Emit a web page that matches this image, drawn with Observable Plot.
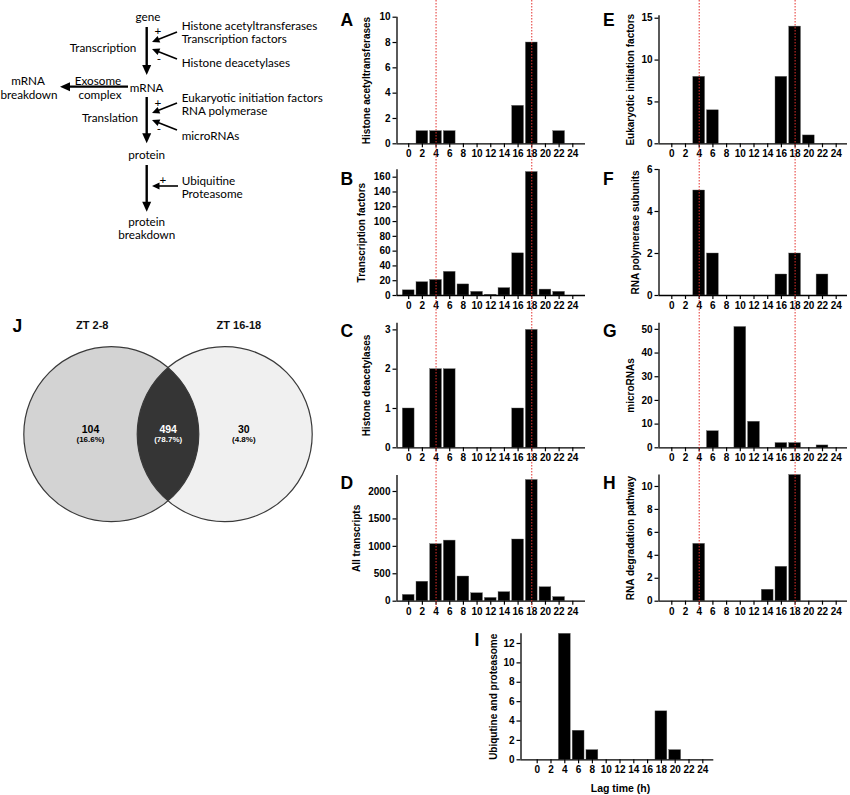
<!DOCTYPE html>
<html><head><meta charset="utf-8">
<script src="https://cdn.jsdelivr.net/npm/d3@7"></script>
<script src="https://cdn.jsdelivr.net/npm/@observablehq/plot@0.6"></script>
<style>
body{margin:0;background:#fff;}
#fig{position:relative;width:850px;height:795px;overflow:hidden;background:#fff;font-family:"Liberation Sans",Arial,sans-serif;}
#fig > *{position:absolute;}
</style></head><body><div id="fig"></div>
<script>
// ---------------- data ----------------
const lag = [0, 2, 4, 6, 8, 10, 12, 14, 16, 18, 20, 22, 24];
const histoneAcetyltransferases = [0, 1, 1, 1, 0, 0, 0, 0, 3, 8, 0, 1, 0];
const transcriptionFactors = [7, 18, 21, 32, 15, 5, 1, 10, 57, 167, 8, 5, 0];
const histoneDeacetylases = [1, 0, 2, 2, 0, 0, 0, 0, 1, 3, 0, 0, 0];
const allTranscripts = [115, 355, 1040, 1105, 450, 145, 60, 165, 1125, 2210, 255, 75, 0];
const eukaryoticInitiationFactors = [0, 0, 8, 4, 0, 0, 0, 0, 8, 14, 1, 0, 0];
const rnaPolymeraseSubunits = [0, 0, 5, 2, 0, 0, 0, 0, 1, 2, 0, 1, 0];
const microRNAs = [0, 0, 0, 7, 0, 51, 11, 0, 2, 2, 0, 1, 0];
const rnaDegradationPathway = [0, 0, 5, 0, 0, 0, 0, 1, 3, 11, 0, 0, 0];
const ubiquitinProteasome = [0, 0, 13, 3, 1, 0, 0, 0, 0, 5, 1, 0, 0];

const ticksA = [0, 2, 4, 6, 8, 10];
const ticksB = [0, 20, 40, 60, 80, 100, 120, 140, 160];
const ticksC = [0, 1, 2, 3];
const ticksD = [0, 500, 1000, 1500, 2000];
const ticksE = [0, 5, 10, 15];
const ticksF = [0, 2, 4, 6];
const ticksG = [0, 10, 20, 30, 40, 50];
const ticksH = [0, 2, 4, 6, 8, 10];
const ticksI = [0, 2, 4, 6, 8, 10, 12];

const markedLags = [4, 18];

const vennSets = ["ZT 2-8", "ZT 16-18"];
const vennCounts = [104, 494, 30];
const vennPercents = ["(16.6%)", "(78.7%)", "(4.8%)"];

// ---------------- layout ----------------
const fig = document.getElementById("fig");
function place(el, left, top, z) {
  el.style.position = "absolute";
  el.style.left = left + "px";
  el.style.top = top + "px";
  if (z) el.style.zIndex = z;
  fig.appendChild(el);
}
const FONT = "'Liberation Sans', Arial, Helvetica, sans-serif";

const columns = {
  left:   {axisLeft: 396.5, axisRight: 585,   x0: 408.2, x24: 572.3},
  right:  {axisLeft: 658.5, axisRight: 847,   x0: 671.3, x24: 835.7},
  bottom: {axisLeft: 520.5, axisRight: 713.3, x0: 536.7, x24: 702.3}
};
const pxPerHour = c => (c.x24 - c.x0) / 24;
function xDomain(c) {
  const k = pxPerHour(c);
  return [(c.axisLeft - c.x0) / k, (c.axisRight - c.x0) / k];
}

const panels = [
  {id: "A", col: "left", label: "Histone acetyltransferases", values: histoneAcetyltransferases, ticks: ticksA, yMax: 10, yBase: 143.3, yTopPx: 16.7, labelX: 366},
  {id: "B", col: "left", label: "Transcription factors", values: transcriptionFactors, ticks: ticksB, yMax: 170, yBase: 295, yTopPx: 169.3, labelX: 361.7},
  {id: "C", col: "left", label: "Histone deacetylases", values: histoneDeacetylases, ticks: ticksC, yMax: 3.17, yBase: 447.3, yTopPx: 322.7, labelX: 366.7},
  {id: "D", col: "left", label: "All transcripts", values: allTranscripts, ticks: ticksD, yMax: 2290, yBase: 600.7, yTopPx: 475.1, labelX: 356.7},
  {id: "E", col: "right", label: "Eukaryotic initiation factors", values: eukaryoticInitiationFactors, ticks: ticksE, yMax: 15.3, yBase: 143.3, yTopPx: 15.2, labelX: 630},
  {id: "F", col: "right", label: "RNA polymerase subunits", values: rnaPolymeraseSubunits, ticks: ticksF, yMax: 6, yBase: 295, yTopPx: 169, labelX: 635},
  {id: "G", col: "right", label: "microRNAs", values: microRNAs, ticks: ticksG, yMax: 52.6, yBase: 447.3, yTopPx: 322.7, labelX: 630},
  {id: "H", col: "right", label: "RNA degradation pathway", values: rnaDegradationPathway, ticks: ticksH, yMax: 11, yBase: 600.7, yTopPx: 474.5, labelX: 630},
  {id: "I", col: "bottom", label: "Ubiqutine and proteasome", values: ubiquitinProteasome, ticks: ticksI, yMax: 13, yBase: 759.3, yTopPx: 633.3, labelX: 493, xLabel: "Lag time (h)", xLabelX: 620, xLabelY: 788.5}
];

const letters = [
  {t: "A", x: 340.5, y: 26}, {t: "B", x: 340.5, y: 184.5}, {t: "C", x: 340.5, y: 337}, {t: "D", x: 340.5, y: 488.5},
  {t: "E", x: 603, y: 26}, {t: "F", x: 603, y: 184.5}, {t: "G", x: 603, y: 337}, {t: "H", x: 603, y: 488.5},
  {t: "I", x: 474.5, y: 645.5}, {t: "J", x: 12.5, y: 332}
];

// ---------------- bar panels ----------------
for (const p of panels) {
  const c = columns[p.col];
  const k = pxPerHour(c);
  const left = Math.floor(c.axisLeft - 70);
  const top = Math.floor(p.yTopPx - 12);
  const width = Math.ceil(c.axisRight - left + 4);
  const height = Math.ceil(p.yBase - top + (p.xLabel ? 40 : 24));
  const ml = c.axisLeft - left, mr = width - (c.axisRight - left);
  const mt = p.yTopPx - top, mb = height - (p.yBase - top);
  const [xMin, xMax] = xDomain(c);
  const yPerPx = p.yMax / (p.yBase - p.yTopPx);
  const data = lag.map((t, i) => ({t, v: p.values[i]}));
  const marks = [
    Plot.rect(data.filter(d => d.v > 0), {x1: d => d.t - 0.86, x2: d => d.t + 0.86, y1: 0, y2: "v", fill: "#000", stroke: "#666", strokeWidth: 0.4}),
    Plot.axisX(lag, {tickSize: 4, tickPadding: 2.5, fontSize: 10, fontWeight: "bold", tickFormat: d => String(d), label: null, strokeWidth: 1.2}),
    Plot.axisY(p.ticks, {tickSize: 4, tickPadding: 2.5, fontSize: 10, fontWeight: "bold", tickFormat: d => String(d), label: null, strokeWidth: 1.2}),
    Plot.ruleY([0], {strokeWidth: 1.3}),
    Plot.ruleX([xMin], {strokeWidth: 1.3}),
    Plot.text([p.label], {x: (p.labelX - c.x0) / k, y: p.yMax / 2, rotate: -90, fontSize: 10, fontWeight: "bold", clip: false})
  ];
  if (p.xLabel) {
    marks.push(Plot.text([p.xLabel], {x: (p.xLabelX - c.x0) / k, y: -(p.xLabelY - p.yBase) * yPerPx, fontSize: 10.5, fontWeight: "bold"}));
  }
  const chart = Plot.plot({
    width, height, marginTop: mt, marginBottom: mb, marginLeft: ml, marginRight: mr,
    style: {background: "none", fontFamily: FONT, fontWeight: "bold", fontSize: "10px", overflow: "visible", color: "#000"},
    x: {domain: [xMin, xMax]},
    y: {domain: [0, p.yMax]},
    marks
  });
  place(chart, left, top, 1);
}

// ---------------- red dotted reference lines ----------------
for (const key of ["left", "right"]) {
  const c = columns[key];
  const left = Math.floor(c.axisLeft - 70);
  const width = Math.ceil(c.axisRight - left + 4);
  const [xMin, xMax] = xDomain(c);
  const ov = Plot.plot({
    width, height: 608, marginTop: 0, marginBottom: 0,
    marginLeft: c.axisLeft - left, marginRight: width - (c.axisRight - left),
    x: {domain: [xMin, xMax], axis: null},
    style: {background: "none", overflow: "visible"},
    marks: [Plot.ruleX(markedLags, {stroke: "#e3302c", strokeWidth: 1, strokeDasharray: "1.5,1.5"})]
  });
  place(ov, left, 0, 3);
}

// ---------------- Venn diagram ----------------
{
  const a = 0.648;                       // half distance between centres, in radii
  const th = Math.acos(a);
  const lens = [];
  for (let i = 0; i <= 40; i++) { const f = -th + 2 * th * i / 40; lens.push({x: -a + Math.cos(f), y: Math.sin(f)}); }
  for (let i = 0; i <= 40; i++) { const f = th - 2 * th * i / 40; lens.push({x: a - Math.cos(f), y: Math.sin(f)}); }
  const setLayout = [{x: -a, labelX: -0.866, fill: "#d3d3d3"}, {x: a, labelX: 0.81, fill: "#f0f0f0"}];
  const regionX = [-0.886, 0.002, 0.866];
  const regions = vennCounts.map((n, i) => ({n: String(n), pct: vennPercents[i], x: regionX[i], fill: i === 1 ? "#fff" : "#000"}));
  const sets = vennSets.map((s, i) => ({s, ...setLayout[i]}));
  const venn = Plot.plot({
    width: 340, height: 230, margin: 0,
    x: {domain: [-1.914, 1.971], axis: null},
    y: {domain: [-1.1006, 1.528], axis: null},
    style: {background: "none", fontFamily: FONT, overflow: "visible"},
    marks: [
      Plot.dot(sets, {x: "x", y: 0, r: 87.5, fill: d => d.fill}),
      Plot.line(lens, {x: "x", y: "y", fill: "#353535", stroke: "none"}),
      Plot.dot(sets, {x: "x", y: 0, r: 87.5, fill: "none", stroke: "#3a3a3a", strokeWidth: 1.2}),
      Plot.text(sets, {x: "labelX", y: 1.242, text: "s", fontSize: 11, fontWeight: "bold", fill: "#111"}),
      Plot.text(regions, {x: "x", y: 0, text: "n", dy: -5, fontSize: 10.5, fontWeight: "bold", fill: "fill"}),
      Plot.text(regions, {x: "x", y: 0, text: "pct", dy: 5, fontSize: 8, fontWeight: "bold", fill: "fill"})
    ]
  });
  place(venn, 0, 300, 1);
}

// ---------------- pathway schematic ----------------
{
  const svg = d3.create("svg").attr("width", 340).attr("height", 250)
    .style("font-family", "Lato, 'Open Sans', sans-serif").style("font-size", "11.7px");
  const texts = [
    ["gene", 148, 16.2, "middle"], ["Transcription", 103, 46.7, "middle"], ["+", 158, 29.5, "middle"], ["-", 159, 57.5, "middle"],
    ["Histone acetyltransferases", 181.7, 25, "start"], ["Transcription factors", 181.7, 38.3, "start"], ["Histone deacetylases", 181.7, 61.7, "start"],
    ["mRNA", 146.7, 86.7, "middle"], ["Exosome", 98, 80, "middle"], ["complex", 100, 94, "middle"], ["mRNA", 28, 80, "middle"], ["breakdown", 29, 94, "middle"],
    ["Translation", 110, 116.7, "middle"], ["+", 158, 101.5, "middle"], ["-", 159, 127.5, "middle"],
    ["Eukaryotic initiation factors", 181.7, 96.7, "start"], ["RNA polymerase", 181.7, 110, "start"], ["microRNAs", 181.7, 135, "start"],
    ["protein", 146.7, 154, "middle"], ["+", 163, 179, "middle"], ["Ubiquitine", 181.7, 180, "start"], ["Proteasome", 181.7, 193.3, "start"],
    ["protein", 146.7, 220.5, "middle"], ["breakdown", 146.7, 233.5, "middle"]
  ];
  svg.selectAll("text").data(texts).join("text")
    .attr("x", d => d[1]).attr("y", d => d[2]).attr("text-anchor", d => d[3])
    .attr("dominant-baseline", "central").attr("fill", "#000").text(d => d[0]);
  const arrows = [
    [146.7, 27, 146.7, 75, 2.4, 10, 9], [146.7, 97, 146.7, 143.3, 2.4, 10, 9], [146.7, 165, 146.7, 211.7, 2.4, 10, 9],
    [128, 86.7, 60, 86.7, 2.2, 10, 9],
    [177, 32, 152, 42, 1.6, 7.5, 7], [177, 59, 152, 49, 1.6, 7.5, 7], [177, 103, 152, 113, 1.6, 7.5, 7], [177, 130, 152, 120, 1.6, 7.5, 7],
    [178, 186, 152, 186, 1.6, 7.5, 7]
  ];
  for (const [x1, y1, x2, y2, w, hl, hw] of arrows) {
    const L = Math.hypot(x2 - x1, y2 - y1), ux = (x2 - x1) / L, uy = (y2 - y1) / L;
    const bx = x2 - ux * hl, by = y2 - uy * hl;
    svg.append("line").attr("x1", x1).attr("y1", y1).attr("x2", bx + ux).attr("y2", by + uy).attr("stroke", "#000").attr("stroke-width", w);
    svg.append("polygon").attr("points", [[x2, y2], [bx - uy * hw / 2, by + ux * hw / 2], [bx + uy * hw / 2, by - ux * hw / 2]].map(p => p.join(",")).join(" ")).attr("fill", "#000");
  }
  place(svg.node(), 0, 0, 1);
}

// ---------------- panel letters ----------------
{
  const svg = d3.create("svg").attr("width", 850).attr("height", 795).style("font-family", FONT).style("overflow", "visible");
  svg.selectAll("text").data(letters).join("text")
    .attr("x", d => d.x).attr("y", d => d.y).attr("font-size", 17.5).attr("font-weight", "bold").attr("fill", "#000").text(d => d.t);
  place(svg.node(), 0, 0, 2);
  svg.node().style.pointerEvents = "none";
}
</script></body></html>
